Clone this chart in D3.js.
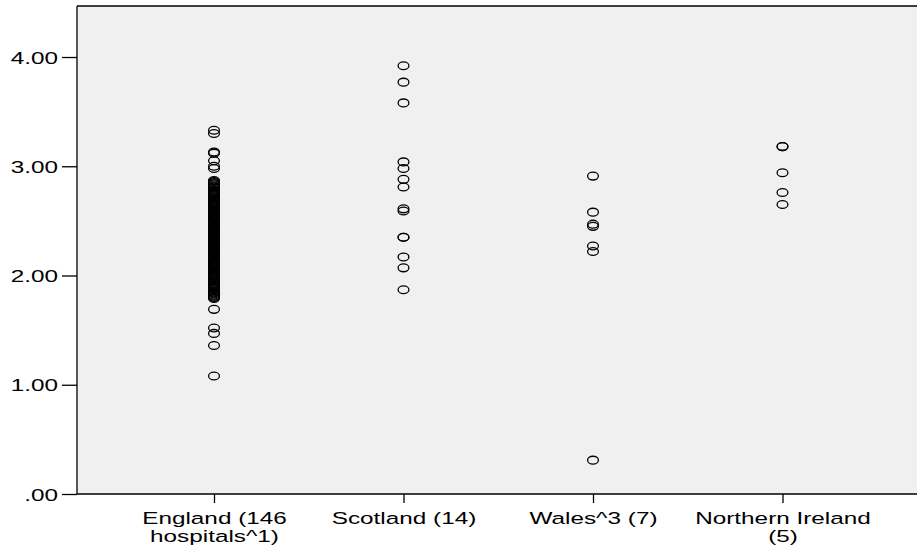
<!DOCTYPE html>
<html><head><meta charset="utf-8">
<script src="https://cdn.jsdelivr.net/npm/d3@7"></script>
<style>body{margin:0;background:#fff}svg{display:block}text{font-family:"Liberation Sans",Arial,sans-serif;fill:#000}</style>
</head><body>
<script>
const categories = ["England (146 hospitals^1)", "Scotland (14)", "Wales^3 (7)", "Northern Ireland (5)"];
const categoryLines = [["England (146", "hospitals^1)"], ["Scotland (14)"], ["Wales^3 (7)"], ["Northern Ireland", "(5)"]];
const englandValues = [3.33, 3.30, 3.13, 3.12, 3.05, 3.00, 2.98,
  2.87, 2.86, 2.85, 2.84, 2.83, 2.82, 2.81, 2.80, 2.78, 2.77, 2.76, 2.75, 2.74, 2.73, 2.72, 2.71, 2.70, 2.69, 2.68, 2.67, 2.66, 2.65, 2.64, 2.63, 2.62, 2.61, 2.60, 2.60, 2.59, 2.58, 2.57, 2.56, 2.55, 2.54, 2.53, 2.52, 2.52, 2.51, 2.50, 2.49, 2.48, 2.47, 2.46, 2.46, 2.45, 2.44, 2.43, 2.42, 2.41, 2.40, 2.40, 2.39, 2.38, 2.37, 2.36, 2.35, 2.35, 2.34, 2.33, 2.32, 2.31, 2.30, 2.30, 2.29, 2.28, 2.27, 2.26, 2.25, 2.25, 2.24, 2.23, 2.22, 2.21, 2.20, 2.20, 2.19, 2.18, 2.17, 2.16, 2.15, 2.14, 2.13, 2.12, 2.11, 2.10, 2.09, 2.08, 2.07, 2.06, 2.05, 2.04, 2.03, 2.02, 2.01, 2.00, 1.99, 1.98, 1.97, 1.96, 1.95, 1.94, 1.93, 1.92, 1.91, 1.90, 1.89, 1.88, 1.86, 1.85, 1.84, 1.83, 1.82, 1.81, 1.80, 1.79,
  1.69, 1.52, 1.47, 1.36, 1.08];
const scotlandValues = [3.92, 3.77, 3.58, 3.04, 2.98, 2.88, 2.81, 2.61, 2.59, 2.35, 2.35, 2.17, 2.07, 1.87];
const walesValues = [2.91, 2.58, 2.47, 2.45, 2.27, 2.22, 0.31];
const niValues = [3.18, 3.18, 2.94, 2.76, 2.65];
const seriesValues = [englandValues, scotlandValues, walesValues, niValues];
const yTicks = [0, 1, 2, 3, 4];
const yTickLabels = [".00", "1.00", "2.00", "3.00", "4.00"];

const W = 917, H = 548;
const plot = {left: 77, top: 6, right: 918, bottom: 494};
const sx = 1.43;
const fs = 17;

const svg = d3.select("body").append("svg").attr("width", W).attr("height", H);
const y = d3.scaleLinear().domain([0, 4.467]).range([plot.bottom, plot.top]);
const x = d3.scalePoint().domain(categories).range([214, 782.5]);

svg.append("rect").attr("x", plot.left).attr("y", plot.top)
  .attr("width", plot.right - plot.left).attr("height", plot.bottom - plot.top)
  .attr("fill", "#f0f0f0");

// y axis
const yAxis = svg.append("g").attr("transform", `translate(${plot.left},0)`)
  .call(d3.axisLeft(y).tickValues(yTicks).tickFormat((d, i) => yTickLabels[i]).tickSize(15).tickSizeOuter(0));
yAxis.select(".domain").remove();
yAxis.selectAll(".tick line").attr("stroke", "#000").attr("stroke-width", 1.3);
yAxis.selectAll(".tick text").attr("font-size", fs).attr("x", 0).attr("dy", "0.36em")
  .attr("transform", `translate(-19,0) scale(${sx},1)`).attr("font-family", null);

// x axis
const xAxis = svg.append("g").attr("transform", `translate(0,${plot.bottom})`)
  .call(d3.axisBottom(x).tickSize(9).tickSizeOuter(0).tickFormat(""));
xAxis.select(".domain").remove();
xAxis.selectAll(".tick line").attr("stroke", "#000").attr("stroke-width", 1.3);
xAxis.selectAll(".tick").each(function(d, i) {
  const t = d3.select(this).append("text").attr("text-anchor", "middle")
    .attr("font-size", fs).attr("transform", `translate(0,30) scale(${sx},1)`).attr("font-family", null);
  categoryLines[i].forEach((ln, j) => t.append("tspan").attr("x", 0).attr("y", j * 18).text(ln));
});

// frame lines
svg.append("line").attr("x1", plot.left).attr("x2", plot.left).attr("y1", plot.top).attr("y2", plot.bottom).attr("stroke", "#000").attr("stroke-width", 1.3);
svg.append("line").attr("x1", plot.left).attr("x2", W).attr("y1", plot.top).attr("y2", plot.top).attr("stroke", "#000").attr("stroke-width", 1.3);
svg.append("line").attr("x1", plot.left).attr("x2", W).attr("y1", plot.bottom).attr("y2", plot.bottom).attr("stroke", "#000").attr("stroke-width", 1.3);

// points
const pts = [];
seriesValues.forEach((vals, i) => vals.forEach(v => pts.push({c: categories[i], v})));
svg.append("g").selectAll("ellipse").data(pts).join("ellipse")
  .attr("cx", d => x(d.c)).attr("cy", d => y(d.v))
  .attr("rx", 5.4).attr("ry", 3.9)
  .attr("fill", "none").attr("stroke", "#000").attr("stroke-width", 1.3);
</script>
</body></html>
